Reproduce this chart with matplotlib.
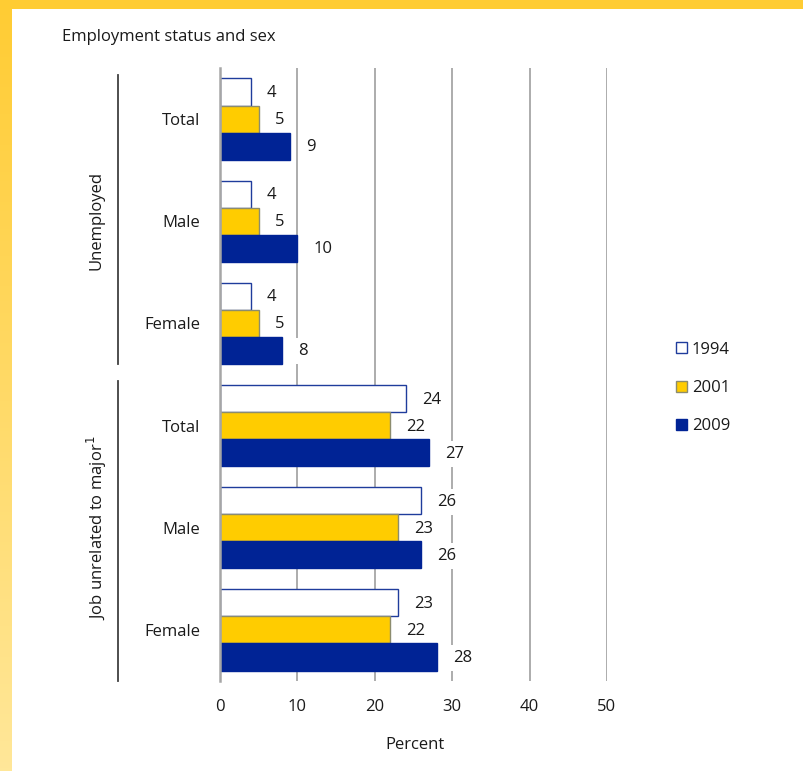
import matplotlib
matplotlib.use("Agg")
import matplotlib.pyplot as plt
import numpy as np
from matplotlib.patches import Rectangle
from matplotlib.colors import LinearSegmentedColormap

plt.rcParams['font.family'] = ['Open Sans', 'DejaVu Sans']

categories = ["Total", "Male", "Female", "Total", "Male", "Female"]
groups = ["Unemployed", "Job unrelated to major$^{1}$"]
years = ["1994", "2001", "2009"]
v1994 = [4, 4, 4, 24, 26, 23]
v2001 = [5, 5, 5, 22, 23, 22]
v2009 = [9, 10, 8, 27, 26, 28]
xticks = [0, 10, 20, 30, 40, 50]

FS = 12
TXT = "#1a1a1a"
W, H = 804, 771
fig = plt.figure(figsize=(W / 100, H / 100), dpi=100)
fig.patch.set_facecolor("white")

# yellow frame
bg = fig.add_axes([0, 0, 12 / W, 1])
grad = np.linspace(0, 1, 256).reshape(-1, 1)
cmap = LinearSegmentedColormap.from_list("y", ["#FFCC33", "#FFE799"])
bg.imshow(grad, aspect="auto", cmap=cmap, extent=[0, 1, 1, 0])
bg.axis("off")
top = fig.add_axes([0, 1 - 9 / H, 1, 9 / H])
top.axis("off")
top.add_patch(Rectangle((0, 0), 1, 1, color="#FFCC33", transform=top.transAxes))

ax_l, ax_r, ax_t, ax_b = 220, 607, 68, 681
ax = fig.add_axes([ax_l / W, 1 - ax_b / H, (ax_r - ax_l) / W, (ax_b - ax_t) / H])

y = np.arange(len(categories))
h = 0.265
colors = ["white", "#FFCC00", "#002395"]
edges = ["#1F3C9C", "#8C8C6E", "#002395"]
series = [v1994, v2001, v2009]
offs = [-h, 0, h]
handles = []
for s, c, e, o, lab in zip(series, colors, edges, offs, years):
    b = ax.barh(y + o, s, height=h, color=c, edgecolor=e, linewidth=1.0, zorder=5, label=lab)
    handles.append(b)
    for yi, v in zip(y + o, s):
        ax.annotate(str(v), (v, yi), xytext=(16, -1), textcoords="offset pixels",
                    ha="left", va="center", fontsize=FS, color=TXT, zorder=4,
                    bbox=dict(boxstyle="square,pad=0.3", fc="white", ec="none"))

ax.set_xlim(0, 50)
ax.set_ylim(5.5, -0.5)
ax.set_xticks(xticks)
ax.set_xticklabels([str(t) for t in xticks], fontsize=FS, color=TXT)
ax.set_yticks(y)
ax.set_yticklabels(categories, fontsize=FS, color=TXT)
ax.tick_params(axis="x", length=0, pad=13)
ax.tick_params(axis="y", length=0, pad=14)
ax.grid(axis="x", color="#A6A6A6", linewidth=1.3, zorder=0)
for sp in ["top", "right", "bottom"]:
    ax.spines[sp].set_visible(False)
ax.spines["left"].set_color("#A6A6A6")
ax.spines["left"].set_linewidth(1.8)
ax.spines["left"].set_zorder(6)
ax.set_axisbelow(True)

def fy(p):
    return 1 - p / H

fig.add_artist(plt.Line2D([118 / W, 118 / W], [fy(75), fy(364)], color="#404040", linewidth=1.3))
fig.add_artist(plt.Line2D([118 / W, 118 / W], [fy(381), fy(681)], color="#404040", linewidth=1.3))
fig.text(97 / W, fy(220), groups[0], rotation=90, ha="center", va="center", fontsize=FS, color=TXT)
fig.text(97 / W, fy(528), groups[1], rotation=90, ha="center", va="center", fontsize=FS, color=TXT)

fig.text(62 / W, fy(37), "Employment status and sex", ha="left", va="center", fontsize=FS, color=TXT)
fig.text(415 / W, fy(745), "Percent", ha="center", va="center", fontsize=FS, color=TXT)

leg = fig.legend(handles=handles, labels=years, loc="center left", bbox_to_anchor=(676 / W, fy(388)),
                 frameon=False, fontsize=FS, handlelength=0.65, handleheight=0.65, handletextpad=0.3,
                 labelspacing=1.35, borderpad=0, borderaxespad=0)
for t in leg.get_texts():
    t.set_color(TXT)

fig.savefig("out.png", dpi=100, facecolor="white")
